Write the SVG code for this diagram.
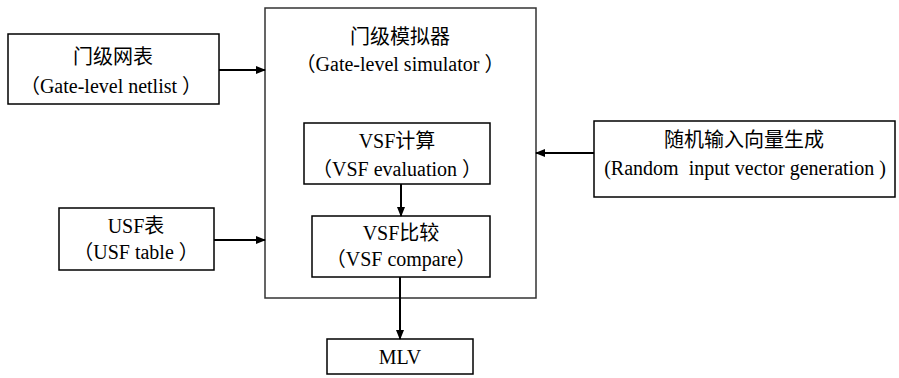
<svg xmlns="http://www.w3.org/2000/svg" width="899" height="378" viewBox="0 0 899 378">
<defs>
<style>
.box{fill:#fff;stroke:#000;stroke-width:1.5}
.big{fill:#fff;stroke:#333;stroke-width:1.5}
.t{font-family:"Liberation Serif","Noto Sans CJK SC",serif;font-size:20px;fill:#000;text-anchor:middle}
.l{font-family:"Liberation Serif",serif}
.ln{stroke:#000;stroke-width:2;fill:none}
</style>
<marker id="ah" markerWidth="10" markerHeight="10" refX="9" refY="5" orient="auto" markerUnits="userSpaceOnUse">
<path d="M0,1 L10,5 L0,9 Z" fill="#000"/>
</marker>
</defs>
<rect width="899" height="378" fill="#fff"/>
<g id="simulator">
<rect class="big" x="265" y="8" width="271" height="290"/>
<text class="t" x="400" y="44">门级模拟器</text>
<text class="t" x="400" y="71">（<tspan class="l">Gate-level simulator </tspan>）</text>
</g>
<g id="netlist">
<rect class="box" x="8" y="34" width="211" height="70"/>
<text class="t" x="113" y="64">门级网表</text>
<text class="t" x="111" y="93">（<tspan class="l">Gate-level netlist </tspan>）</text>
</g>
<g id="usf">
<rect class="box" x="59" y="208" width="155" height="62"/>
<text class="t" x="136" y="233"><tspan class="l">USF</tspan>表</text>
<text class="t" x="136" y="259">（<tspan class="l">USF table </tspan>）</text>
</g>
<g id="vsfeval">
<rect class="box" x="304" y="123" width="186" height="61"/>
<text class="t" x="397" y="148"><tspan class="l">VSF</tspan>计算</text>
<text class="t" x="397" y="176">（<tspan class="l">VSF evaluation </tspan>）</text>
</g>
<g id="vsfcmp">
<rect class="box" x="312" y="216" width="178" height="61"/>
<text class="t" x="401" y="240"><tspan class="l">VSF</tspan>比较</text>
<text class="t" x="401" y="266">（<tspan class="l">VSF compare</tspan>）</text>
</g>
<g id="random">
<rect class="box" x="594" y="121" width="301" height="76"/>
<text class="t" x="744" y="147">随机输入向量生成</text>
<text class="t l" x="745" y="175" xml:space="preserve">(Random  input vector generation )</text>
</g>
<g id="mlv">
<rect class="box" x="327" y="339" width="146" height="35"/>
<text class="t l" x="400" y="364">MLV</text>
</g>
<g id="connectors">
<line class="ln" x1="219" y1="70" x2="265" y2="70" marker-end="url(#ah)"/>
<line class="ln" x1="214" y1="240" x2="265" y2="240" marker-end="url(#ah)"/>
<line class="ln" x1="594" y1="153" x2="536" y2="153" marker-end="url(#ah)"/>
<line class="ln" x1="401" y1="184" x2="401" y2="216" marker-end="url(#ah)"/>
<line class="ln" x1="400" y1="277" x2="400" y2="339" marker-end="url(#ah)"/>
</g>
</svg>
